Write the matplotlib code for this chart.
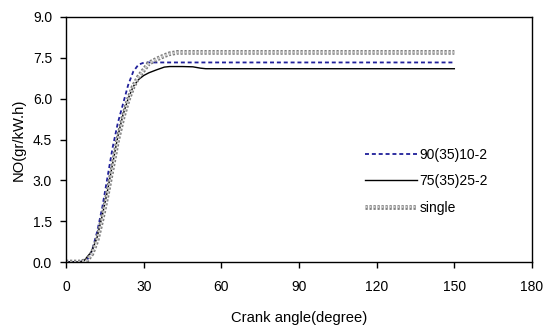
import matplotlib
matplotlib.use("Agg")
from matplotlib import pyplot as plt
import matplotlib.patheffects as pe

plt.rcParams['font.family'] = ['Liberation Sans', 'DejaVu Sans']
plt.rcParams['font.size'] = 10

# crank angle (degree)
angle_single = [0, 5, 8, 10, 12, 14, 16, 18, 20, 22, 24, 26, 28, 30, 32, 35, 38, 40, 43, 45, 60, 90, 120, 150]
no_single = [0, 0, 0.05, 0.3, 0.8, 1.6, 2.5, 3.5, 4.5, 5.3, 5.95, 6.45, 6.8, 7.05, 7.3, 7.45, 7.58, 7.65, 7.7, 7.7, 7.7, 7.7, 7.7, 7.7]

angle_90 = [0, 5, 8, 10, 12, 14, 16, 18, 20, 22, 24, 26, 28, 30, 32, 60, 90, 120, 150]
no_90 = [0, 0, 0.05, 0.4, 1.1, 2.0, 3.1, 4.2, 5.1, 5.8, 6.5, 7.0, 7.25, 7.32, 7.33, 7.33, 7.33, 7.33, 7.33]

angle_75 = [0, 5, 7, 10, 12, 14, 16, 18, 20, 22, 24, 26, 28, 30, 32, 35, 38, 40, 45, 49, 52, 54, 60, 90, 120, 150]
no_75 = [0, 0, 0.05, 0.4, 0.9, 1.7, 2.6, 3.6, 4.6, 5.4, 6.0, 6.45, 6.7, 6.85, 6.95, 7.06, 7.16, 7.18, 7.18, 7.17, 7.12, 7.1, 7.1, 7.1, 7.1, 7.1]

fig = plt.figure(figsize=(5.44, 3.27), dpi=100)
ax = fig.add_axes([66 / 544, 1 - 262 / 327, 466 / 544, 245 / 327])

ax.plot(angle_90, no_90, color='#1f1f9a', lw=1.3, ls=(0, (2.2, 1.6)), label='90(35)10-2')
ax.plot(angle_75, no_75, color='black', lw=1.0, label='75(35)25-2')
ax.plot(angle_single, no_single, color='#c8c8c8', lw=1.6, ls=(0, (1, 0.8)), label='single',
        path_effects=[pe.Stroke(linewidth=3.4, foreground='#7a7a7a'), pe.Normal()])

ax.set_xlim(0, 180)
ax.set_ylim(0, 9)
ax.set_xticks([0, 30, 60, 90, 120, 150, 180])
ax.set_yticks([0, 1.5, 3.0, 4.5, 6.0, 7.5, 9.0])
ax.set_yticklabels(['0.0', '1.5', '3.0', '4.5', '6.0', '7.5', '9.0'])
ax.tick_params(direction='out', length=4, width=1, pad=6, labelsize=10)
ax.tick_params(axis='x', pad=9)
for s in ax.spines.values():
    s.set_linewidth(1.0)

ax.set_xlabel('Crank angle(degree)', labelpad=12, fontsize=10.6)
ax.set_ylabel('NO(gr/kW.h)', labelpad=5, fontsize=10.6)

ax.legend(loc='upper left', bbox_to_anchor=(0.63, 0.49), frameon=False, fontsize=10,
          handlelength=3.7, handletextpad=0.2, labelspacing=0.92, borderaxespad=0)

fig.savefig('out.png', dpi=100)
